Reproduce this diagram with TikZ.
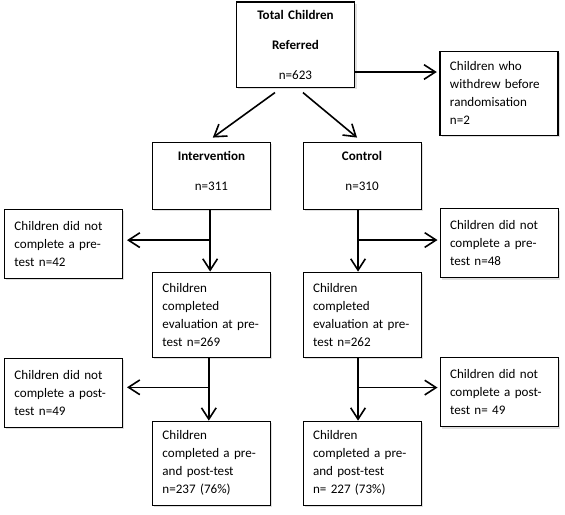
\documentclass[tikz,border=0pt]{standalone}
\usepackage{fontspec}
\setmainfont{Carlito}
\usetikzlibrary{shapes.geometric, arrows.meta, shadows}
\usetikzlibrary{positioning}
\tikzstyle{stage} = [rectangle, minimum width=88.5pt, text width=73.5pt, inner xsep=7.5pt, align=center, draw=black, line width=0.8pt, fill=white, drop shadow={shadow xshift=1.5pt, shadow yshift=-1.5pt, fill=black!25}, font=\fontsize{9.8}{13.5}\selectfont]
\tikzstyle{note} = [stage, align=left]
\tikzstyle{arrow} = [line width=1.2pt, -{Straight Barb[length=8.5pt, width=11pt, line width=1.2pt]}]

\begin{document}
\begin{tikzpicture}
 \useasboundingbox (-221.6pt,33.4pt) rectangle (202.1pt,-352.1pt);

 \node (total) [stage, minimum height=63.75pt] {\textbf{Total Children}\\[9pt]\textbf{Referred}\\[9pt]n=623};
 \node (withdrew) [note, right of=total, node distance=152.6pt, yshift=-36.4pt, minimum height=63pt] {Children who\\withdrew before\\randomisation\\n=2};

 \node (intervention) [stage, below of=total, node distance=98.3pt, xshift=-63pt, minimum height=50.25pt] {\textbf{Intervention}\\[9pt]n=311\\[-6pt]\mbox{}};
 \node (control) [stage, right of=intervention, node distance=112.9pt, minimum height=50.25pt] {\textbf{Control}\\[9pt]n=310\\[-6pt]\mbox{}};

 \node (pre_left) [note, below of=intervention, node distance=51pt, xshift=-111pt, minimum height=51.75pt] {Children did not\\complete a pre-\\test n=42};
 \node (pre_right) [note, below of=control, node distance=50.6pt, xshift=102.75pt, minimum height=51.75pt] {Children did not\\complete a pre-\\test n=48};

 \node (eval_left) [note, below of=intervention, node distance=104.25pt, minimum height=63.75pt] {Children\\completed\\evaluation at pre-\\test n=269};
 \node (eval_right) [note, below of=control, node distance=104.25pt, minimum height=63.75pt] {Children\\completed\\evaluation at pre-\\test n=262};

 \node (post_left) [note, below of=pre_left, node distance=111.75pt, minimum height=51.75pt] {Children did not\\complete a post-\\test n=49};
 \node (post_right) [note, below of=pre_right, node distance=111.75pt, minimum height=51.75pt] {Children did not\\complete a post-\\test n= 49};

 \node (final_left) [note, below of=eval_left, node distance=111.4pt, minimum height=63pt] {Children\\completed a pre-\\and post-test\\n=237 (76\%)};
 \node (final_right) [note, below of=eval_right, node distance=111.4pt, minimum height=63pt] {Children\\completed a pre-\\and post-test\\n= 227 (73\%)};

 \draw [arrow, shorten >=2pt] ([yshift=-20.6pt]total.east) -- ([yshift=-20.6pt]total.east -| withdrew.west);
 \draw [arrow] ([xshift=-15.4pt, yshift=-3.75pt]total.south) -- ([xshift=1pt, yshift=3pt]intervention.north);
 \draw [arrow] ([xshift=5.6pt, yshift=-3.75pt]total.south) -- ([xshift=-3.75pt, yshift=3pt]control.north);

 \draw [arrow] ([xshift=-1pt]intervention.south) -- ([xshift=-1pt]eval_left.north);
 \draw [arrow, shorten >=3pt] ([xshift=-1pt, yshift=2.6pt]intervention.south |- pre_left.east) -- ([yshift=2.6pt]pre_left.east);
 \draw [arrow] ([xshift=-3pt]control.south) -- ([xshift=-3pt]eval_right.north);
 \draw [arrow, shorten >=1.5pt] ([xshift=-3pt, yshift=2.3pt]control.south |- pre_right.west) -- ([yshift=2.3pt]pre_right.west);

 \draw [arrow] ([xshift=-2pt]eval_left.south) -- ([xshift=-2pt]final_left.north);
 \draw [arrow, shorten >=3pt] ([xshift=-2pt, yshift=4pt]eval_left.south |- post_left.east) -- ([yshift=4pt]post_left.east);
 \draw [arrow] ([xshift=-3pt]eval_right.south) -- ([xshift=-3pt]final_right.north);
 \draw [arrow, shorten >=1.5pt] ([xshift=-3pt, yshift=3.4pt]eval_right.south |- post_right.west) -- ([yshift=3.4pt]post_right.west);

\end{tikzpicture}
\end{document}
